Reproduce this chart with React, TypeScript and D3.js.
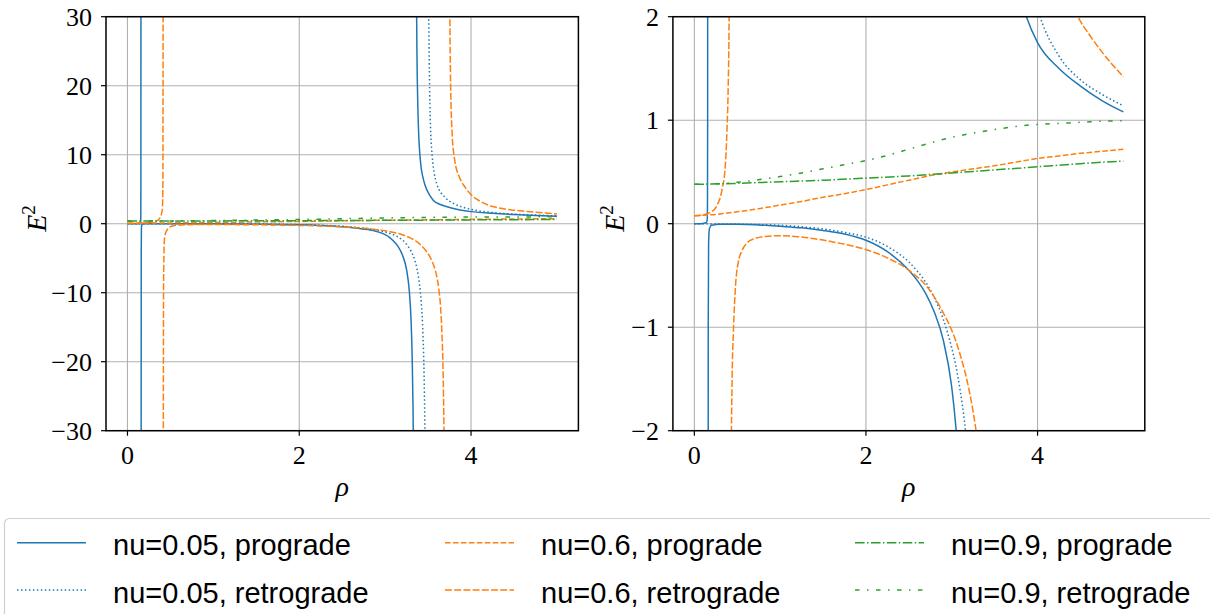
import React from 'react';
import * as d3 from 'd3';

type Pt = [number, number];

// Axis ticks
const rhoTicks = [0, 2, 4];
const wideTicks = [-30, -20, -10, 0, 10, 20, 30];
const zoomTicks = [-2, -1, 0, 1, 2];

// nu = 0.05, prograde (three branches between two poles)
const nu005ProInner: Pt[] = [
  [0, 0], [0.05, 0], [0.1, 0.003], [0.14, 0.01], [0.15, 0.04], [0.153, 0.2],
  [0.155, 1], [0.156, 5], [0.157, 40],
];
const nu005ProMiddle: Pt[] = [
  [0.159, -40], [0.16, -5], [0.162, -1], [0.166, -0.2], [0.175, -0.05], [0.2, -0.015],
  [0.3, -0.006], [0.5, -0.005], [0.75, -0.012], [1.0, -0.025], [1.25, -0.04], [1.5, -0.065],
  [1.75, -0.1], [2.0, -0.16], [2.25, -0.27], [2.5, -0.45], [2.6, -0.55], [2.7, -0.68],
  [2.8, -0.86], [2.9, -1.12], [3.0, -1.58], [3.05, -1.98], [3.1, -2.55], [3.15, -3.3],
  [3.2, -4.5], [3.25, -6.7], [3.28, -9.6], [3.3, -13.5], [3.315, -19.5], [3.325, -27],
  [3.335, -40],
];
const nu005ProOuter: Pt[] = [
  [3.36, 40], [3.37, 25], [3.385, 15], [3.41, 9.2], [3.44, 6.7], [3.47, 5.4], [3.52, 4.1],
  [3.56, 3.4], [3.65, 2.75], [3.75, 2.35], [3.87, 2.0], [4.0, 1.75], [4.25, 1.5],
  [4.5, 1.33], [4.75, 1.19], [5.0, 1.08],
];

// nu = 0.05, retrograde
const nu005RetInner: Pt[] = [
  [0, 0], [0.1, 0], [0.2, -0.003], [0.5, -0.004], [0.75, -0.008], [1.0, -0.015],
  [1.25, -0.03], [1.5, -0.05], [1.75, -0.085], [2.0, -0.13], [2.25, -0.22], [2.5, -0.37],
  [2.6, -0.46], [2.7, -0.57], [2.8, -0.72], [2.9, -0.92], [2.95, -1.05], [3.0, -1.2],
  [3.05, -1.38], [3.1, -1.62], [3.15, -1.92], [3.2, -2.35], [3.25, -3.0], [3.3, -3.95],
  [3.34, -5.1], [3.37, -6.5], [3.4, -8.8], [3.42, -11.3], [3.44, -16], [3.455, -23],
  [3.465, -32], [3.475, -45],
];
const nu005RetOuter: Pt[] = [
  [3.5, 40], [3.515, 22], [3.54, 11], [3.6, 5.8], [3.7, 3.8], [3.8, 2.9], [3.9, 2.4],
  [4.03, 2.0], [4.25, 1.62], [4.5, 1.39], [4.75, 1.25], [5.0, 1.14],
];

// nu = 0.6, prograde
const nu06Pro: Pt[] = [
  [0, 0.077], [0.25, 0.09], [0.5, 0.115], [0.75, 0.145], [1.0, 0.18], [1.25, 0.215],
  [1.5, 0.255], [1.75, 0.29], [2.0, 0.33], [2.25, 0.375], [2.5, 0.42], [2.75, 0.465],
  [3.0, 0.5], [3.25, 0.53], [3.5, 0.56], [3.75, 0.595], [4.0, 0.63], [4.25, 0.655],
  [4.5, 0.68], [4.75, 0.7], [5.0, 0.72],
];

// nu = 0.6, retrograde
const nu06RetInner: Pt[] = [
  [0, 0.077], [0.1, 0.085], [0.2, 0.115], [0.26, 0.17], [0.32, 0.32], [0.36, 0.55],
  [0.38, 0.9], [0.395, 1.35], [0.405, 2.0], [0.41, 3.5], [0.413, 8], [0.415, 35],
];
const nu06RetMiddle: Pt[] = [
  [0.417, -35], [0.42, -10], [0.425, -4.5], [0.43, -2.3], [0.44, -1.5], [0.455, -1.05],
  [0.48, -0.6], [0.51, -0.38], [0.55, -0.27], [0.61, -0.19], [0.7, -0.145], [0.8, -0.125],
  [1.0, -0.116], [1.2, -0.125], [1.4, -0.145], [1.7, -0.19], [2.0, -0.25], [2.25, -0.33],
  [2.5, -0.45], [2.75, -0.65], [2.9, -0.86], [3.0, -1.03], [3.1, -1.27], [3.2, -1.6],
  [3.28, -1.98], [3.35, -2.45], [3.42, -3.15], [3.48, -4.0], [3.53, -5.0], [3.57, -6.2],
  [3.6, -7.6], [3.625, -9.5], [3.645, -12], [3.66, -15.5], [3.672, -20], [3.682, -27],
  [3.69, -36],
];
const nu06RetOuter: Pt[] = [
  [3.75, 35], [3.76, 22], [3.78, 13], [3.81, 9.2], [3.86, 6.9], [3.93, 5.3], [4.0, 4.2],
  [4.1, 3.3], [4.2, 2.7], [4.3, 2.35], [4.47, 2.0], [4.6, 1.83], [4.75, 1.66], [5.0, 1.42],
];

// nu = 0.9, prograde
const nu09Pro: Pt[] = [
  [0, 0.38], [0.5, 0.39], [1.0, 0.405], [1.5, 0.42], [2.0, 0.44], [2.5, 0.462],
  [3.0, 0.49], [3.5, 0.52], [4.0, 0.55], [4.5, 0.58], [5.0, 0.606],
];

// nu = 0.9, retrograde
const nu09Ret: Pt[] = [
  [0, 0.38], [0.25, 0.385], [0.5, 0.4], [0.75, 0.425], [1.0, 0.455], [1.25, 0.49],
  [1.5, 0.53], [1.75, 0.57], [2.0, 0.61], [2.25, 0.66], [2.5, 0.72], [2.75, 0.78],
  [3.0, 0.835], [3.25, 0.875], [3.5, 0.91], [3.75, 0.94], [4.0, 0.96], [4.25, 0.968],
  [4.5, 0.98], [4.75, 0.99], [5.0, 0.995],
];

const BLUE = '#1f77b4';
const ORANGE = '#ff7f0e';
const GREEN = '#2ca02c';
const LW = 1.5;

interface Series {
  label: string;
  color: string;
  dash: string | undefined;
  branches: Pt[][];
}

const series: Series[] = [
  { label: 'nu=0.05, prograde', color: BLUE, dash: undefined, branches: [nu005ProInner, nu005ProMiddle, nu005ProOuter] },
  { label: 'nu=0.05, retrograde', color: BLUE, dash: `${1 * LW} ${1.65 * LW}`, branches: [nu005RetInner, nu005RetOuter] },
  { label: 'nu=0.6, prograde', color: ORANGE, dash: `${3.7 * LW} ${1.6 * LW}`, branches: [nu06Pro] },
  { label: 'nu=0.6, retrograde', color: ORANGE, dash: '7 2.2', branches: [nu06RetInner, nu06RetMiddle, nu06RetOuter] },
  { label: 'nu=0.9, prograde', color: GREEN, dash: `${6.4 * LW} ${1.6 * LW} ${1 * LW} ${1.6 * LW}`, branches: [nu09Pro] },
  { label: 'nu=0.9, retrograde', color: GREEN, dash: `${3 * LW} ${5 * LW} ${1 * LW} ${5 * LW}`, branches: [nu09Ret] },
];

const TOP = 16.7;
const BOTTOM = 430.7;

interface Panel {
  id: string;
  left: number;
  right: number;
  yDomain: [number, number];
  yTicks: number[];
  ylabelX: number;
}

const panels: Panel[] = [
  { id: 'wide', left: 106, right: 578.4, yDomain: [-30, 30], yTicks: wideTicks, ylabelX: 45.5 },
  { id: 'zoom', left: 672.9, right: 1144.8, yDomain: [-2, 2], yTicks: zoomTicks, ylabelX: 624 },
];

const SERIF = '"Liberation Serif", "DejaVu Serif", serif';
const SANS = '"Liberation Sans", Arial, sans-serif';

const fmt = (v: number) => (v < 0 ? `\u2212${Math.abs(v)}` : `${v}`);

function PanelView({ p }: { p: Panel }) {
  const x = d3.scaleLinear().domain([-0.25, 5.25]).range([p.left, p.right]);
  const y = d3.scaleLinear().domain(p.yDomain).range([BOTTOM, TOP]);
  const line = d3
    .line<Pt>()
    .x((d) => x(d[0]))
    .y((d) => y(d[1]))
    .curve(d3.curveMonotoneX);
  const clipId = `clip-${p.id}`;
  const cx = (p.left + p.right) / 2;
  return (
    <g>
      <defs>
        <clipPath id={clipId}>
          <rect x={p.left} y={TOP} width={p.right - p.left} height={BOTTOM - TOP} />
        </clipPath>
      </defs>
      {/* grid */}
      {rhoTicks.map((t) => (
        <line key={`gx${t}`} x1={x(t)} x2={x(t)} y1={TOP} y2={BOTTOM} stroke="#b0b0b0" strokeWidth={1.1} />
      ))}
      {p.yTicks.map((t) => (
        <line key={`gy${t}`} x1={p.left} x2={p.right} y1={y(t)} y2={y(t)} stroke="#b0b0b0" strokeWidth={1.1} />
      ))}
      {/* curves */}
      <g clipPath={`url(#${clipId})`}>
        {series.map((s, i) =>
          s.branches.map((b, j) => (
            <path
              key={`${i}-${j}`}
              d={line(b) ?? ''}
              fill="none"
              stroke={s.color}
              strokeWidth={LW}
              strokeDasharray={s.dash}
            />
          ))
        )}
      </g>
      {/* frame */}
      <rect x={p.left} y={TOP} width={p.right - p.left} height={BOTTOM - TOP} fill="none" stroke="#000" strokeWidth={1.5} />
      {/* x ticks */}
      {rhoTicks.map((t) => (
        <g key={`tx${t}`}>
          <line x1={x(t)} x2={x(t)} y1={BOTTOM} y2={BOTTOM + 5} stroke="#000" strokeWidth={1.2} />
          <text x={x(t)} y={464} textAnchor="middle" fontFamily={SERIF} fontSize={26} fill="#000">
            {fmt(t)}
          </text>
        </g>
      ))}
      {/* y ticks */}
      {p.yTicks.map((t) => (
        <g key={`ty${t}`}>
          <line x1={p.left - 5} x2={p.left} y1={y(t)} y2={y(t)} stroke="#000" strokeWidth={1.2} />
          <text
            x={p.left - 14}
            y={y(t)}
            dy="0.34em"
            textAnchor="end"
            fontFamily={SERIF}
            fontSize={26}
            fill="#000"
          >
            {fmt(t)}
          </text>
        </g>
      ))}
      {/* axis labels */}
      <text x={cx} y={496} textAnchor="middle" fontFamily={SERIF} fontStyle="italic" fontSize={28} fill="#000">
        ρ
      </text>
      <text
        transform={`translate(${p.ylabelX},218.5) rotate(-90)`}
        textAnchor="middle"
        fontFamily={SERIF}
        fontSize={28}
        fill="#000"
      >
        <tspan fontStyle="italic">E</tspan>
        <tspan dy={-11} fontSize={19}>2</tspan>
      </text>
    </g>
  );
}

const legendCols = [17, 445, 855];
const legendRows = [542.7, 590];

function Legend() {
  return (
    <g>
      <rect x={4.5} y={518.5} width={1230} height={120} rx={5} fill="#fff" fillOpacity={0.8} stroke="#d0d0d0" strokeWidth={1.2} />
      {series.map((s, i) => {
        const col = Math.floor(i / 2);
        const row = i % 2;
        const lx = legendCols[col];
        const ly = legendRows[row];
        return (
          <g key={s.label}>
            <line x1={lx} x2={lx + 69} y1={ly} y2={ly} stroke={s.color} strokeWidth={LW} strokeDasharray={s.dash} />
            <text x={lx + 96} y={ly + 12.5} fontFamily={SANS} fontSize={29} fill="#000">
              {s.label}
            </text>
          </g>
        );
      })}
    </g>
  );
}

export default function App() {
  return (
    <svg
      width={1210}
      height={614}
      viewBox="0 0 1210 614"
      style={{ position: 'absolute', left: 0, top: 0, background: '#fff' }}
    >
      <rect x={0} y={0} width={1210} height={614} fill="#fff" />
      {panels.map((p) => (
        <PanelView key={p.id} p={p} />
      ))}
      <Legend />
    </svg>
  );
}
